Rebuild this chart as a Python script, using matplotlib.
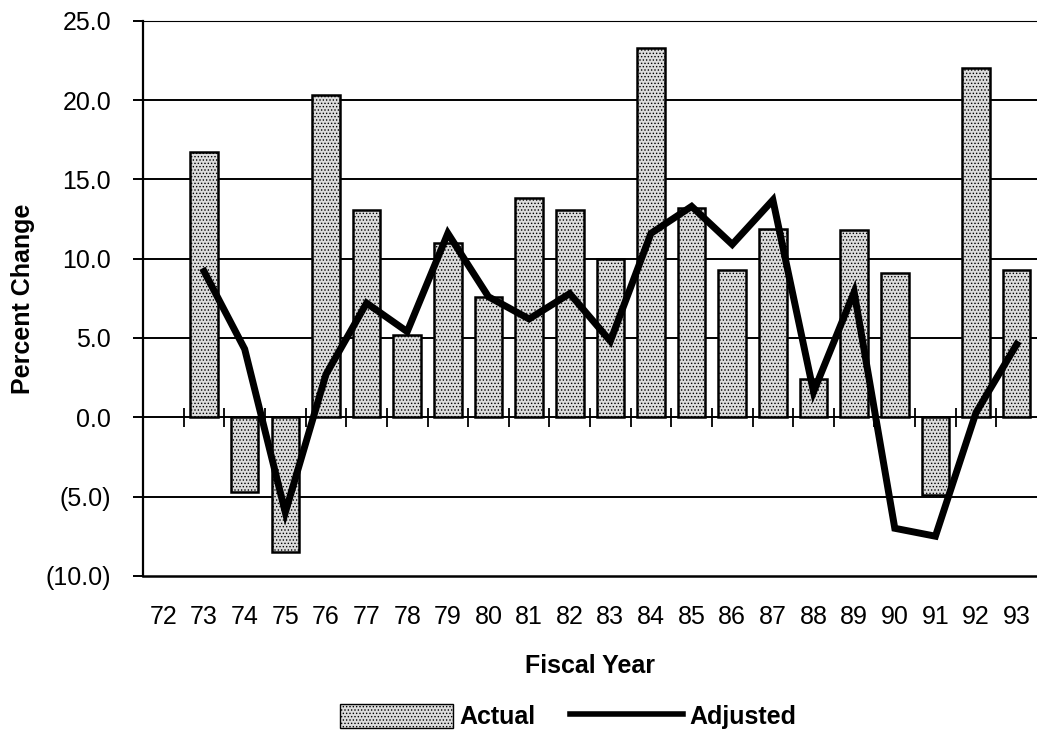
import numpy as np
import matplotlib
matplotlib.use("Agg")
import matplotlib.pyplot as plt
from matplotlib.patches import Patch
from matplotlib.lines import Line2D

# Datos
years = ['72', '73', '74', '75', '76', '77', '78', '79', '80', '81', '82',
         '83', '84', '85', '86', '87', '88', '89', '90', '91', '92', '93']
actual = [np.nan, 16.7, -4.7, -8.5, 20.3, 13.1, 5.2, 11.0, 7.6, 13.8, 13.1,
          10.0, 23.3, 13.2, 9.3, 11.9, 2.4, 11.8, 9.1, -4.9, 22.0, 9.3]
adjusted = [np.nan, 9.2, 4.3, -6.0, 2.7, 7.2, 5.4, 11.6, 7.6, 6.2, 7.8,
            4.8, 11.6, 13.3, 10.9, 13.7, 1.6, 7.9, -7.0, -7.5, 0.3, 4.6]
yticks = [25, 20, 15, 10, 5, 0, -5, -10]
ylabels = ['25.0', '20.0', '15.0', '10.0', '5.0', '0.0', '(5.0)', '(10.0)']

plt.rcParams['font.family'] = ['Liberation Sans', 'DejaVu Sans']
plt.rcParams['hatch.linewidth'] = 0.6
plt.rcParams['hatch.color'] = 'black'

fig = plt.figure(figsize=(10.37, 7.44), dpi=100)
ax = fig.add_axes([0.138, 0.226, 0.862, 0.746])

x = np.arange(len(years))

# grilla horizontal
for v in yticks[1:-1]:
    ax.axhline(v, color='black', lw=1.4, zorder=1)

ax.bar(x, actual, width=0.68, facecolor='#dcdcdc', edgecolor='black',
       hatch='.....', linewidth=1.8, zorder=2)
ax.plot(x, adjusted, color='black', lw=5, solid_joinstyle='miter', zorder=3)

# marcas sobre la linea del cero
ax.vlines(x[:-1] + 0.5, -0.6, 0.6, color='black', lw=1.3, zorder=1)

ax.set_xlim(-0.5, len(years) - 0.5)
ax.set_ylim(-10, 25)
ax.set_yticks(yticks)
ax.set_yticklabels(ylabels)
ax.set_xticks(x)
ax.set_xticklabels(years)
ax.tick_params(axis='y', length=7, width=1.4, pad=16, labelsize=18)
ax.tick_params(axis='x', length=0, pad=21, labelsize=18)

ax.spines['right'].set_visible(False)
ax.spines['top'].set_linewidth(0.8)
ax.spines['left'].set_linewidth(1.6)
ax.spines['bottom'].set_linewidth(1.8)

ax.set_ylabel('Percent Change', fontsize=18, fontweight='bold', labelpad=8)
ax.set_xlabel('Fiscal Year', fontsize=18, fontweight='bold', labelpad=18)

handles = [Patch(facecolor='#dcdcdc', edgecolor='black', hatch='.....', lw=1.0),
           Line2D([0], [0], color='black', lw=4)]
fig.legend(handles, ['Actual', 'Adjusted'], loc='center', ncol=2,
           bbox_to_anchor=(0.548, 0.037), frameon=False,
           prop={'size': 18, 'weight': 'bold'},
           handlelength=4.5, handleheight=1.1, columnspacing=1.4, handletextpad=0.25)

plt.savefig('out.png', dpi=100)
